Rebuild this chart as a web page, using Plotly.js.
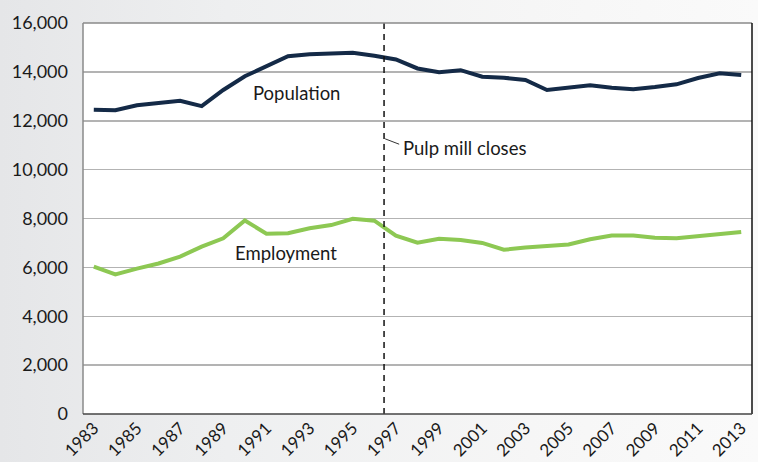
<!DOCTYPE html>
<html>
<head>
<meta charset="utf-8">
<script src="https://cdn.plot.ly/plotly-3.0.1.min.js"></script>
<style>
html,body{margin:0;padding:0;}
body{width:758px;height:462px;background:linear-gradient(to right,#e5e6e8 0%,#eeeff0 30%,#f6f6f6 70%,#fafafa 100%);}
#chart{width:758px;height:462px;}
</style>
</head>
<body>
<div id="chart"></div>
<script>
const years = [1983,1984,1985,1986,1987,1988,1989,1990,1991,1992,1993,1994,1995,1996,1997,1998,1999,2000,2001,2002,2003,2004,2005,2006,2007,2008,2009,2010,2011,2012,2013];
const population = [12450,12430,12630,12740,12820,12600,13260,13820,14250,14640,14720,14760,14780,14660,14510,14140,13990,14070,13800,13760,13670,13260,13350,13450,13350,13290,13380,13490,13750,13940,13870];
const employment = [6030,5715,5950,6160,6440,6850,7190,7920,7380,7400,7600,7730,7990,7910,7300,7010,7170,7120,7000,6720,6810,6890,6940,7150,7300,7300,7210,7190,7280,7360,7450];
const tickYears = [1983,1985,1987,1989,1991,1993,1995,1997,1999,2001,2003,2005,2007,2009,2011,2013];
const yTicks = [0,2000,4000,6000,8000,10000,12000,14000,16000];
const millCloseYear = 1996.45;

const fontFam = 'Lato, "Open Sans", sans-serif';

const traces = [
  {x: years, y: population, type: 'scatter', mode: 'lines', name: 'Population',
   line: {color: '#142a47', width: 4}, hoverinfo: 'x+y'},
  {x: years, y: employment, type: 'scatter', mode: 'lines', name: 'Employment',
   line: {color: '#8dc853', width: 4}, hoverinfo: 'x+y'}
];

const layout = {
  width: 758, height: 462,
  margin: {l: 83, r: 6, t: 23, b: 48},
  paper_bgcolor: 'rgba(0,0,0,0)',
  plot_bgcolor: '#ffffff',
  showlegend: false,
  font: {family: fontFam, color: '#1a1a1a', size: 17},
  xaxis: {
    range: [1982.5, 2013.5],
    tickvals: tickYears,
    ticktext: tickYears.map(String),
    tickangle: -45,
    showgrid: false, zeroline: false, showline: false,
    ticks: '',
    tickfont: {family: fontFam, size: 17, color: '#1a1a1a'}
  },
  yaxis: {
    range: [0, 16000],
    tickvals: yTicks,
    ticktext: yTicks.map(v => v.toLocaleString('en-US')),
    showgrid: true, gridcolor: '#b3b3b3', gridwidth: 1.5,
    zeroline: false, showline: false, ticks: '',
    ticklabelstandoff: 14,
    tickfont: {family: fontFam, size: 18, color: '#1a1a1a'}
  },
  shapes: [
    {type: 'line', xref: 'x', yref: 'y domain', x0: millCloseYear, x1: millCloseYear, y0: 0, y1: 1,
     line: {color: '#111', width: 1.5, dash: '6px,5px'}},
    {type: 'line', xref: 'x', yref: 'y', x0: 1996.5, x1: 1997.15, y0: 11260, y1: 11040,
     line: {color: '#333', width: 1}},
    {type: 'line', xref: 'x domain', yref: 'y domain', x0: 0, x1: 1, y0: 1, y1: 1, line: {color: '#8a8a8a', width: 1.5}},
    {type: 'line', xref: 'x domain', yref: 'y domain', x0: 0, x1: 0, y0: 0, y1: 1, line: {color: '#8a8a8a', width: 1.5}},
    {type: 'line', xref: 'x domain', yref: 'y domain', x0: 1, x1: 1, y0: 0, y1: 1, line: {color: '#111', width: 1.5}},
    {type: 'line', xref: 'x domain', yref: 'y domain', x0: 0, x1: 1, y0: 0, y1: 0, line: {color: '#444', width: 1.5}}
  ],
  annotations: [
    {x: 1990.3, y: 13150, xref: 'x', yref: 'y', text: 'Population', showarrow: false,
     xanchor: 'left', yanchor: 'middle', font: {family: fontFam, size: 18.5, color: '#1a1a1a'}},
    {x: 1989.45, y: 6590, xref: 'x', yref: 'y', text: 'Employment', showarrow: false,
     xanchor: 'left', yanchor: 'middle', font: {family: fontFam, size: 18.5, color: '#1a1a1a'}},
    {x: 1997.25, y: 10880, xref: 'x', yref: 'y', text: 'Pulp mill closes', showarrow: false,
     xanchor: 'left', yanchor: 'middle', font: {family: fontFam, size: 18.5, color: '#1a1a1a'}}
  ]
};

Plotly.newPlot('chart', traces, layout, {displayModeBar: false, staticPlot: true});
</script>
</body>
</html>
